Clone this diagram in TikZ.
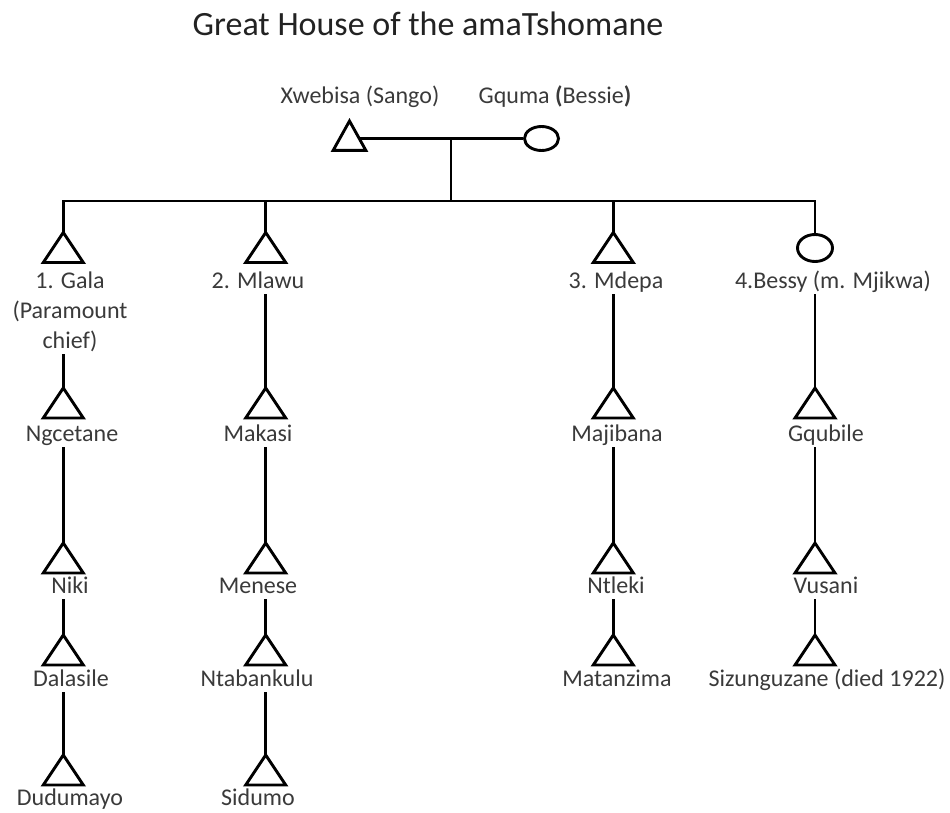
\documentclass[tikz,border=0pt]{standalone}
\usepackage{fontspec}
\setmainfont{Carlito}
\usetikzlibrary{shapes.geometric}
\definecolor{ink}{HTML}{3A3A3A}
\definecolor{headink}{HTML}{222222}
\begin{document}
\begin{tikzpicture}[x=1pt,y=-1pt,
  kin/.style={line width=2.9pt, line join=miter, draw=black},
  lbl/.style={anchor=base, inner sep=0pt, text depth=6pt, text=ink,
              font=\fontsize{24}{29}\selectfont},
  female/.style={kin, ellipse, inner sep=0pt, minimum width=35pt, minimum height=27pt},
  male/.pic={\draw[kin] (0,0) coordinate (-apex) -- (20,30) -- (-20,30) -- cycle;}
]
\useasboundingbox (0,0) rectangle (950,812);

% heading
\node[anchor=base, inner sep=0pt, text=headink, font=\fontsize{34}{40}\selectfont]
  (title) at (428,35) {Great House of the amaTshomane};

% parents
\node[lbl] (xwebL) at (360,103) {Xwebisa (Sango)};
\node[lbl] (gqumaL) at (555,103) {Gquma \textbf{(}Bessie\textbf{)}};
\coordinate (xweb) at (349.5,121);
\draw[kin] (xweb) -- ++(16.3,29.3) -- ++(-32.6,0) -- cycle;
\node[female, minimum width=34pt, minimum height=24pt] (gquma) at (541.5,138.5) {};
\coordinate (xwebR) at (359,138.5);
\coordinate (union) at (451,138.5);
\coordinate (sib) at (451,201);
\draw[kin] (xwebR) -- (gquma.west);
\draw[kin] (union) -- (sib);

% children of the great house
\pic (gala) at (63.3,232.5) {male};
\pic (mlawu) at (265.7,232.5) {male};
\pic (mdepa) at (613.3,232.5) {male};
\node[female] (bessy) at (815,248) {};
\draw[kin] (gala-apex) |- (sib) -| (bessy.north);
\draw[kin] (mlawu-apex) -- (mlawu-apex |- sib);
\draw[kin] (mdepa-apex) -- (mdepa-apex |- sib);

\node[lbl] (galaL1) at (70,288) {1. Gala};
\node[lbl] (galaL2) at (70,318) {(Paramount};
\node[lbl] (galaL3) at (70,348) {chief)};
\node[lbl] (mlawuL) at (258,288) {2. Mlawu};
\node[lbl] (mdepaL) at (616,288) {3. Mdepa};
\node[lbl] (bessyL) at (833,288) {4.Bessy (m. Mjikwa)};

% second generation
\pic (ngc) at (63.3,388) {male};
\pic (mak) at (265.7,388) {male};
\pic (maj) at (613.3,388) {male};
\pic (gqu) at (815,388) {male};
\draw[kin] (galaL3.south -| ngc-apex) -- (ngc-apex);
\draw[kin] (mlawuL.south -| mak-apex) -- (mak-apex);
\draw[kin] (mdepaL.south -| maj-apex) -- (maj-apex);
\draw[kin] (bessyL.south -| gqu-apex) -- (gqu-apex);
\node[lbl] (ngcL) at (72,441) {Ngcetane};
\node[lbl] (makL) at (258,441) {Makasi};
\node[lbl] (majL) at (617,441) {Majibana};
\node[lbl] (gquL) at (826,441) {Gqubile};

% third generation
\pic (niki) at (63.3,543) {male};
\pic (men) at (265.7,543) {male};
\pic (ntl) at (613.3,543) {male};
\pic (vus) at (815,543) {male};
\draw[kin] (ngcL.south -| niki-apex) -- (niki-apex);
\draw[kin] (makL.south -| men-apex) -- (men-apex);
\draw[kin] (majL.south -| ntl-apex) -- (ntl-apex);
\draw[kin] (gquL.south -| vus-apex) -- (vus-apex);
\node[lbl] (nikiL) at (70,593) {Niki};
\node[lbl] (menL) at (258,593) {Menese};
\node[lbl] (ntlL) at (616,593) {Ntleki};
\node[lbl] (vusL) at (826,593) {Vusani};

% fourth generation
\pic (dal) at (63.3,635) {male};
\pic (nta) at (265.7,635) {male};
\pic (mat) at (613.3,635) {male};
\pic (siz) at (815,635) {male};
\draw[kin] (nikiL.south -| dal-apex) -- (dal-apex);
\draw[kin] (menL.south -| nta-apex) -- (nta-apex);
\draw[kin] (ntlL.south -| mat-apex) -- (mat-apex);
\draw[kin] (vusL.south -| siz-apex) -- (siz-apex);
\node[lbl] (dalL) at (71,686) {Dalasile};
\node[lbl] (ntaL) at (257,686) {Ntabankulu};
\node[lbl] (matL) at (617,686) {Matanzima};
\node[lbl] (sizL) at (827,686) {Sizunguzane (died 1922)};

% fifth generation
\pic (dud) at (63.3,755) {male};
\pic (sid) at (265.7,755) {male};
\draw[kin] (dalL.south -| dud-apex) -- (dud-apex);
\draw[kin] (ntaL.south -| sid-apex) -- (sid-apex);
\node[lbl] (dudL) at (70,805) {Dudumayo};
\node[lbl] (sidL) at (258,805) {Sidumo};
\end{tikzpicture}
\end{document}
